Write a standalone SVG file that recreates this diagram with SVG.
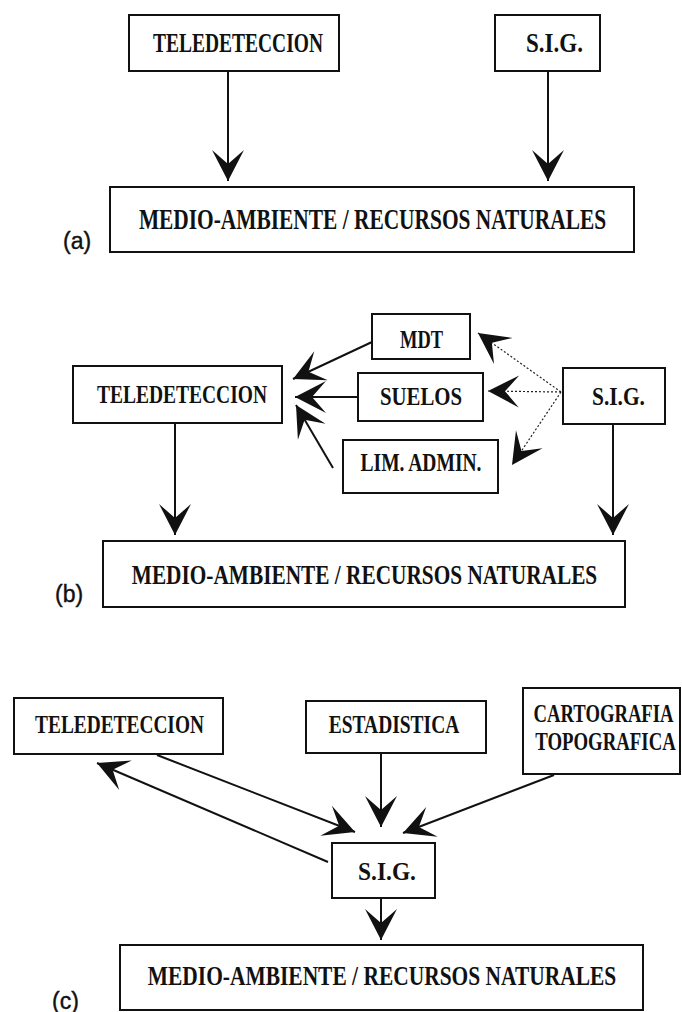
<svg xmlns="http://www.w3.org/2000/svg" width="682" height="1012" viewBox="0 0 682 1012">
<defs>
<style>
.box{fill:#fff;stroke:#111;stroke-width:2}
.t{font-family:"Liberation Serif","DejaVu Serif",serif;font-weight:bold;font-size:26px;fill:#111;text-anchor:middle}
.ta{font-size:27px}
.tm{font-size:28px}
.tma{font-size:29px}
.lbl{font-family:"Liberation Sans","DejaVu Sans",sans-serif;font-size:23px;fill:#111;stroke:#111;stroke-width:0.4}
.ln{fill:none;stroke:#111;stroke-width:2}
.dot{fill:none;stroke:#222;stroke-width:1.2;stroke-dasharray:2 2}
</style>
<marker id="ah" markerUnits="userSpaceOnUse" viewBox="-33 -18 34 36" markerWidth="34" markerHeight="36" refX="0" refY="0" orient="auto" overflow="visible">
<path d="M0,0 L-31,-16 L-17,0 L-31,16 Z" fill="#111"/>
</marker>
</defs>
<rect width="682" height="1012" fill="#fff"/>

<g id="connectors">
<line class="ln" x1="228" y1="71" x2="228" y2="181" marker-end="url(#ah)"/>
<line class="ln" x1="548" y1="71" x2="548" y2="181" marker-end="url(#ah)"/>
<line class="ln" x1="372" y1="342" x2="293" y2="379" marker-end="url(#ah)"/>
<line class="ln" x1="358" y1="397" x2="295" y2="397" marker-end="url(#ah)"/>
<line class="ln" x1="333" y1="468" x2="296" y2="405" marker-end="url(#ah)"/>
<line class="dot" x1="561" y1="392" x2="478" y2="333" marker-end="url(#ah)"/>
<line class="dot" x1="561" y1="392" x2="488" y2="391" marker-end="url(#ah)"/>
<line class="dot" x1="561" y1="392" x2="512" y2="465" marker-end="url(#ah)"/>
<line class="ln" x1="175" y1="423" x2="175" y2="535" marker-end="url(#ah)"/>
<line class="ln" x1="613" y1="424" x2="613" y2="535" marker-end="url(#ah)"/>
<line class="ln" x1="157" y1="755" x2="355" y2="832" marker-end="url(#ah)"/>
<line class="ln" x1="328" y1="862" x2="97" y2="763" marker-end="url(#ah)"/>
<line class="ln" x1="381" y1="753" x2="381" y2="827" marker-end="url(#ah)"/>
<line class="ln" x1="554" y1="775" x2="403" y2="833" marker-end="url(#ah)"/>
<line class="ln" x1="381" y1="898" x2="381" y2="940" marker-end="url(#ah)"/>
</g>

<g id="a-teledeteccion">
<rect class="box" x="129" y="15" width="210" height="56"/>
<text class="t ta" transform="translate(238,52) scale(0.722,1)">TELEDETECCION</text>
</g>
<g id="a-sig">
<rect class="box" x="495" y="15" width="105" height="56"/>
<text class="t ta" transform="translate(554.5,52) scale(0.853,1)">S.I.G.</text>
</g>
<g id="a-medio">
<rect class="box" x="110" y="187" width="524" height="65"/>
<text class="t tma" transform="translate(372.5,229) scale(0.738,1)">MEDIO-AMBIENTE / RECURSOS NATURALES</text>
</g>
<text class="lbl" x="63" y="249">(a)</text>

<g id="b-mdt">
<rect class="box" x="372" y="314" width="98" height="45"/>
<text class="t" transform="translate(421.5,348) scale(0.709,1)">MDT</text>
</g>
<g id="b-teledeteccion">
<rect class="box" x="73" y="366" width="209" height="57"/>
<text class="t" transform="translate(182,403) scale(0.75,1)">TELEDETECCION</text>
</g>
<g id="b-suelos">
<rect class="box" x="358" y="373" width="125" height="48"/>
<text class="t" transform="translate(421,405) scale(0.8,1)">SUELOS</text>
</g>
<g id="b-sig">
<rect class="box" x="563" y="368" width="102" height="56"/>
<text class="t" transform="translate(618.5,405) scale(0.824,1)">S.I.G.</text>
</g>
<g id="b-limadmin">
<rect class="box" x="343" y="440" width="155" height="53"/>
<text class="t" transform="translate(421,471) scale(0.751,1)">LIM. ADMIN.</text>
</g>
<g id="b-medio">
<rect class="box" x="103" y="541" width="522" height="66"/>
<text class="t tm" transform="translate(364.5,584) scale(0.761,1)">MEDIO-AMBIENTE / RECURSOS NATURALES</text>
</g>
<text class="lbl" x="55" y="602">(b)</text>

<g id="c-teledeteccion">
<rect class="box" x="14" y="698" width="209" height="56"/>
<text class="t" transform="translate(119.5,733) scale(0.745,1)">TELEDETECCION</text>
</g>
<g id="c-estadistica">
<rect class="box" x="306" y="701" width="180" height="52"/>
<text class="t" transform="translate(394,733) scale(0.749,1)">ESTADISTICA</text>
</g>
<g id="c-cartografia">
<rect class="box" x="523" y="688" width="157" height="86"/>
<text class="t" transform="translate(603.5,722) scale(0.718,1)">CARTOGRAFIA</text>
<text class="t" transform="translate(605.5,750) scale(0.723,1)">TOPOGRAFICA</text>
</g>
<g id="c-sig">
<rect class="box" x="332" y="843" width="103" height="55"/>
<text class="t" transform="translate(387,880) scale(0.9,1)">S.I.G.</text>
</g>
<g id="c-medio">
<rect class="box" x="120" y="945" width="523" height="65"/>
<text class="t tm" transform="translate(382,985) scale(0.766,1)">MEDIO-AMBIENTE / RECURSOS NATURALES</text>
</g>
<text class="lbl" x="52" y="1009">(c)</text>
</svg>
